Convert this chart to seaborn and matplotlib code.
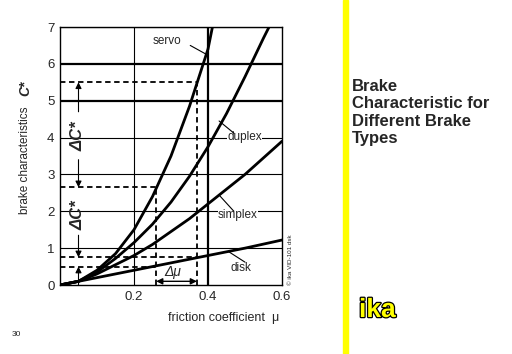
import numpy as np
import pandas as pd
import matplotlib
matplotlib.use('Agg')
import matplotlib.pyplot as plt
import matplotlib.patheffects as pe
from matplotlib.patches import Rectangle
import seaborn as sns

sns.set_style('white')
plt.rcParams['font.family'] = ['Liberation Sans', 'DejaVu Sans']

# curve data (mu -> C*)
servo_mu = [0, 0.05, 0.1, 0.15, 0.2, 0.25, 0.3, 0.35, 0.4, 0.412]
servo_c = [0, 0.1, 0.4, 0.85, 1.5, 2.4, 3.5, 4.85, 6.4, 7.0]
duplex_mu = [0, 0.05, 0.1, 0.15, 0.2, 0.25, 0.3, 0.35, 0.4, 0.45, 0.5, 0.55, 0.565]
duplex_c = [0, 0.1, 0.35, 0.72, 1.15, 1.65, 2.25, 2.95, 3.75, 4.65, 5.65, 6.7, 7.0]
simplex_mu = [0, 0.05, 0.1, 0.15, 0.2, 0.25, 0.3, 0.35, 0.4, 0.45, 0.5, 0.55, 0.6]
simplex_c = [0, 0.1, 0.3, 0.55, 0.8, 1.1, 1.45, 1.8, 2.2, 2.6, 3.0, 3.45, 3.9]
disk_mu = [0, 0.1, 0.2, 0.3, 0.4, 0.5, 0.6]
disk_c = [0, 0.2, 0.4, 0.6, 0.8, 1.0, 1.22]

curves = {'servo': (servo_mu, servo_c), 'duplex': (duplex_mu, duplex_c),
          'simplex': (simplex_mu, simplex_c), 'disk': (disk_mu, disk_c)}

# dashed reading lines
mu_lo, mu_hi = 0.26, 0.37
c_servo_lo, c_servo_hi = 2.65, 5.5
c_disk_lo, c_disk_hi = 0.5, 0.75

fig = plt.figure(figsize=(5.12, 3.54), dpi=100)
ax = fig.add_axes([60 / 512, 1 - 285 / 354, 222 / 512, 258 / 354])

# grid
for y in range(1, 8):
    ax.axhline(y, color='black', lw=1.6 if y in (5, 6) else 0.8, zorder=1)
ax.axvline(0.2, color='black', lw=0.8, zorder=1)
ax.axvline(0.4, color='black', lw=1.6, zorder=1)

for name, (m, c) in curves.items():
    sns.lineplot(x=m, y=c, ax=ax, color='black', lw=2.0, zorder=3)

# dashed helper lines
dash = dict(color='black', lw=1.3, ls=(0, (3, 2)), zorder=2)
ax.plot([0, mu_hi], [c_servo_hi, c_servo_hi], **dash)
ax.plot([mu_hi, mu_hi], [0, c_servo_hi], **dash)
ax.plot([0, mu_lo], [c_servo_lo, c_servo_lo], **dash)
ax.plot([mu_lo, mu_lo], [0, c_servo_lo], **dash)
ax.plot([0, mu_hi], [c_disk_hi, c_disk_hi], **dash)
ax.plot([0, mu_lo], [c_disk_lo, c_disk_lo], **dash)

arr = dict(arrowstyle='-|>', color='black', lw=0.8, mutation_scale=9, shrinkA=0, shrinkB=0)
xa = 0.05
ax.annotate('', xy=(xa, c_servo_hi), xytext=(xa, 4.7), arrowprops=arr)
ax.annotate('', xy=(xa, c_servo_lo), xytext=(xa, 3.4), arrowprops=arr)
ax.text(xa, 4.05, 'ΔC*', rotation=90, ha='center', va='center', fontsize=12,
        fontweight='bold', style='italic')
ax.annotate('', xy=(xa, c_disk_hi), xytext=(xa, 1.35), arrowprops=arr)
ax.annotate('', xy=(xa, c_disk_lo), xytext=(xa, 0.0), arrowprops=arr)
ax.text(xa, 1.9, 'ΔC*', rotation=90, ha='center', va='center', fontsize=12,
        fontweight='bold', style='italic')
ax.annotate('', xy=(mu_hi, 0.1), xytext=(mu_lo, 0.1),
            arrowprops=dict(arrowstyle='<|-|>', color='black', lw=1.0,
                            mutation_scale=9, shrinkA=0, shrinkB=0))
ax.text(0.305, 0.35, 'Δμ', ha='center', va='center', fontsize=10, style='italic')

# curve labels with leader lines
labels = [('servo', (0.25, 6.62), (0.352, 6.5), (0.397, 6.25)),
          ('duplex', (0.452, 4.02), (0.43, 4.45), (0.47, 4.12)),
          ('simplex', (0.427, 1.9), (0.43, 2.44), (0.47, 2.0)),
          ('disk', (0.462, 0.45), (0.455, 0.91), (0.5, 0.62))]
for name, tpos, p0, p1 in labels:
    ax.text(tpos[0], tpos[1], name, fontsize=8.5, ha='left', va='center', zorder=4,
            bbox=dict(facecolor='white', edgecolor='none', pad=0.3))
    ax.plot([p0[0], p1[0]], [p0[1], p1[1]], color='black', lw=0.8, zorder=4)

ax.set_xlim(0, 0.6)
ax.set_ylim(0, 7)
ax.set_xticks([0.2, 0.4, 0.6])
ax.set_xticklabels(['0.2', '0.4', '0.6'])
ax.set_yticks(range(8))
ax.tick_params(length=0, labelsize=9.5, pad=4)
for s in ax.spines.values():
    s.set_color('black')
    s.set_linewidth(1.0)

fig.text(168 / 512, 1 - 318 / 354, 'friction coefficient  μ', fontsize=9, va='center')
fig.text(25 / 512, 1 - 160 / 354, 'brake characteristics', fontsize=8.5, rotation=90,
         ha='center', va='center')
fig.text(25 / 512, 1 - 88 / 354, 'C*', fontsize=10, rotation=90, ha='center', va='center',
         fontweight='bold', style='italic')
fig.text(290 / 512, 1 - 260 / 354, '© ika VID-101 dsk', fontsize=4.5, rotation=90,
         ha='center', va='center')
fig.text(12 / 512, 1 - 335 / 354, '30', fontsize=6, va='center')

# yellow bar and title
fig.add_artist(Rectangle((343 / 512, 0), 5 / 512, 1, transform=fig.transFigure,
                         color='#ffff00', zorder=0))
fig.text(352 / 512, 1 - 79 / 354, 'Brake\nCharacteristic for\nDifferent Brake\nTypes',
         fontsize=12, fontweight='bold', va='top', ha='left', linespacing=1.2)
fig.text(359 / 512, 1 - 310 / 354, 'ika', fontsize=19, fontweight='bold', color='#ffff00',
         va='center', path_effects=[pe.withStroke(linewidth=1.8, foreground='black')])

fig.savefig('out.png', dpi=100)
